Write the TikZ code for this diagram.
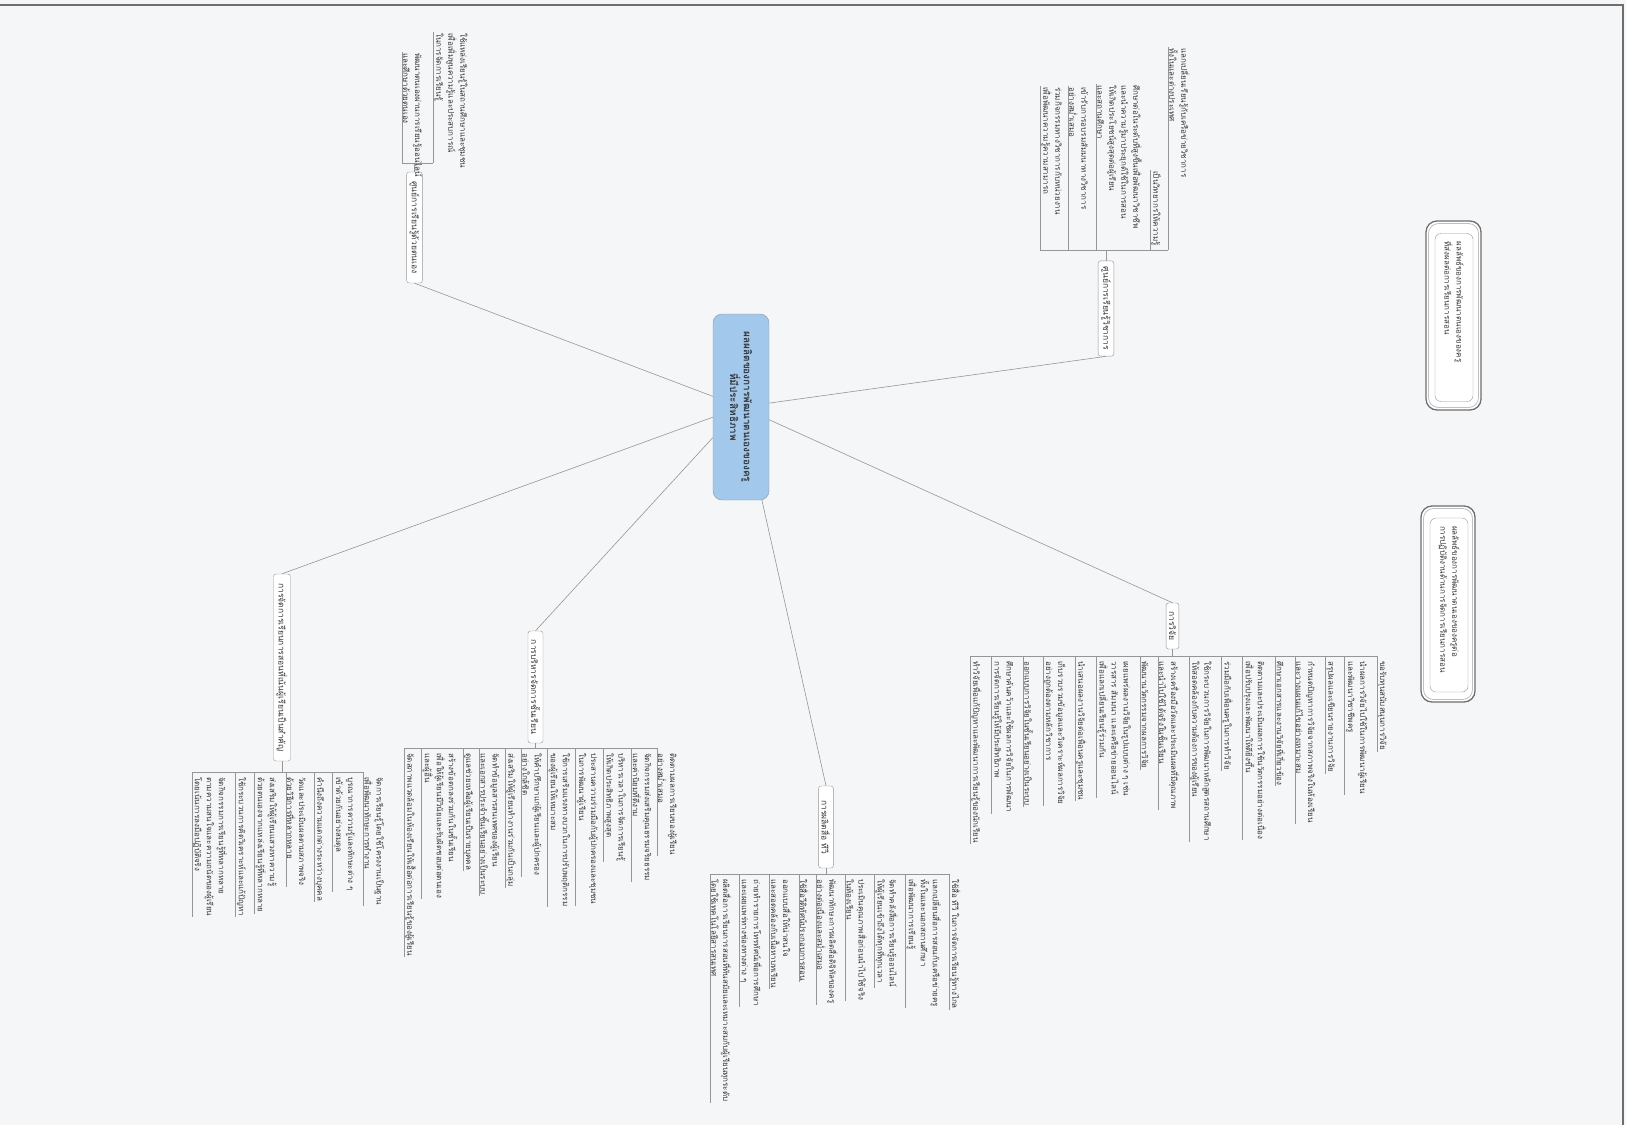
\documentclass[tikz,border=0pt]{standalone}
\usepackage{fontspec}
\newfontfamily\thaifont[Script=Thai]{Loma}
\usetikzlibrary{calc}
\definecolor{bg}{RGB}{245,246,248}
\definecolor{lin}{RGB}{150,150,150}
\definecolor{txt}{RGB}{55,55,55}
\definecolor{cblue}{RGB}{162,201,236}
\definecolor{frm}{RGB}{110,110,110}
\tikzset{
  every node/.style={font=\thaifont\fontsize{8}{12}\selectfont, text=txt},
  central/.style={rotate=-90, draw=lin, fill=cblue, rounded corners=9pt, align=center,
    minimum width=186pt, minimum height=56pt, font=\thaifont\bfseries\fontsize{10}{12}\selectfont},
  branch/.style={rotate=-90, draw=lin, fill=white, rounded corners=2.5pt, inner xsep=6pt, inner ysep=3pt,
    font=\thaifont\fontsize{8.5}{12}\selectfont},
  litem/.style={rotate=-90, align=left, inner sep=1pt, anchor=south west},
  iline/.style={draw=lin, line width=0.6pt},
  conn/.style={draw=lin, line width=0.6pt},
  rbo/.style={draw=frm, line width=1.3pt, fill=white, rounded corners=11pt},
  rbm/.style={draw=lin!60, line width=0.8pt, rounded corners=10pt},
  rbi/.style={rotate=-90, draw=lin, fill=white, rounded corners=6pt, align=left, inner xsep=8pt,
    minimum height=38pt},
}
\newcommand\dfirst[4]{%
  \node[litem] (#1) at (#2,#3) {#4};
  \draw[iline] ([yshift=4pt]#1.south west) -- (#1.south east);}
\newcommand\dnext[4]{%
  \node[litem] (#1) at ([xshift=#3pt]#2.north west) {#4};
  \draw[iline] ([yshift=4pt]#1.south west) -- (#1.south east);}
\newcommand\uitem[5]{%
  \node[litem] (#1) at (#2,#3) {#5};
  \draw[iline] (#1.south west) -- (#2,#4);}
\begin{document}
\begin{tikzpicture}[x=1pt,y=-1pt]
\useasboundingbox (0,0) rectangle (1626,1125);
\fill[bg] (0,0) rectangle (1626,1125);
\draw[frm, line width=1.5pt] (0,5) -- (1623,5) -- (1623,1125);

% central
\node[central] (M) at (741,407) {ผลผลิตของการพัฒนาตนเองของครู\\ที่มีประสิทธิภาพ};

% branches
\node[branch, minimum width=111pt] (A) at (414.5,227.5) {ศูนย์การเรียนรู้ด้วยตนเอง};
\node[branch, minimum width=93pt] (B) at (1106,308.5) {ศูนย์การเรียนรู้วิชาการ};
\node[branch, minimum width=46pt] (C) at (1172.5,626) {การวิจัย};
\node[branch, minimum width=82pt] (D) at (826,827) {การผลิตสื่อ ทีวี};
\node[branch, minimum width=112pt] (E) at (535.5,687) {การบริหารจัดการชั้นเรียน};
\node[branch, minimum width=187pt] (F) at (282,667.5) {การจัดการเรียนการสอนที่เน้นผู้เรียนเป็นสำคัญ};

\draw[conn] (M) -- (A.east);
\draw[conn] (M) -- (B.east);
\draw[conn] (M) -- (C.west);
\draw[conn] (M) -- (D.west);
\draw[conn] (M) -- (E.west);
\draw[conn] (M) -- (F.west);

% right boxes
\draw[rbo] (1426,221) rectangle (1481,410);
\draw[rbm] (1428.5,223.5) rectangle (1478.5,407.5);
\node[rbi, text width=152pt] (R1) at (1454,317.5) {ผลลัพธ์ของการพัฒนาตนเองของครู\\ที่ส่งผลต่อการเรียนการสอน};
\draw[rbo] (1421,506) rectangle (1475,702);
\draw[rbm] (1423.5,508.5) rectangle (1472.5,699.5);
\node[rbi, text width=158pt] (R2) at (1449,605) {ผลลัพธ์ของการพัฒนาตนเองของครูต่อ\\การปฏิบัติงานด้านการจัดการเรียนการสอน};

% ---- A (up)
\coordinate (ab) at (417,163);
\uitem{a1}{402}{52}{163}{พัฒนาตนเองผ่านการเรียนรู้ออนไลน์\\และศึกษาด้วยตนเอง}
\uitem{a2}{433}{32}{163}{ใช้แหล่งเรียนรู้ในสถานศึกษาและชุมชน\\เพื่อเพิ่มพูนความรู้และประสบการณ์\\ในการจัดการเรียนรู้}
\draw[iline] (402,163) -- (433,163);
\draw[iline] (A.west) -- (A.west |- ab);

% ---- B (up)
\coordinate (bb) at (1106,250);
\uitem{b1}{1040}{86}{250}{ร่วมกิจกรรมทางวิชาการกับหน่วยงาน\\เพื่อพัฒนาความรู้ความสามารถ}
\uitem{b2}{1068}{86}{250}{เข้ารับการอบรมสัมมนาทางวิชาการ\\อย่างสม่ำเสมอ}
\uitem{b3}{1096}{84}{250}{ศึกษาต่อในระดับที่สูงขึ้นเพื่อพัฒนาวิชาชีพ\\และนำความรู้มาประยุกต์ใช้ในการสอน\\ให้เกิดประโยชน์สูงสุดต่อผู้เรียน\\และสถานศึกษา}
\uitem{b4}{1150}{170}{250}{เป็นวิทยากรให้ความรู้}
\uitem{b5}{1168}{47}{250}{แลกเปลี่ยนเรียนรู้กับเครือข่ายวิชาการ\\ทั้งในและต่างประเทศ}
\draw[iline] (1040,250) -- (1168,250);
\draw[iline] (B.west) -- (B.west |- bb);

% ---- C (down)
\dfirst{c1}{970}{660}{ทำวิจัยเพื่อแก้ปัญหาและพัฒนาการเรียนรู้ของนักเรียน}
\dnext{c2}{c1}{8.5}{ศึกษาค้นคว้าและใช้ผลการวิจัยในการพัฒนา\\การจัดการเรียนรู้ให้มีประสิทธิภาพ}
\dnext{c3}{c2}{8.5}{ออกแบบการวิจัยในชั้นเรียนอย่างเป็นระบบ}
\dnext{c4}{c3}{8.5}{เก็บรวบรวมข้อมูลและวิเคราะห์ผลการวิจัย\\อย่างถูกต้องตามหลักวิชาการ}
\dnext{c5}{c4}{8.5}{นำเสนอผลงานวิจัยต่อเพื่อนครูและชุมชน}
\dnext{c6}{c5}{8.5}{เผยแพร่ผลงานวิจัยในรูปแบบต่าง ๆ เช่น\\วารสาร สัมมนา และเครือข่ายออนไลน์\\เพื่อแลกเปลี่ยนเรียนรู้ร่วมกัน}
\dnext{c7}{c6}{8.5}{พัฒนานวัตกรรมจากผลการวิจัย}
\dnext{c8}{c7}{8.5}{สร้างเครื่องมือวัดและประเมินผลที่มีคุณภาพ\\และนำไปใช้ได้จริงในชั้นเรียน}
\dnext{c9}{c8}{8.5}{ใช้กระบวนการวิจัยในการพัฒนาหลักสูตรสถานศึกษา\\ให้สอดคล้องกับความต้องการของผู้เรียน}
\dnext{c10}{c9}{8.5}{ร่วมมือกับเพื่อนครูในการทำวิจัย}
\dnext{c11}{c10}{8.5}{ติดตามและประเมินผลการใช้นวัตกรรมอย่างต่อเนื่อง\\เพื่อปรับปรุงและพัฒนาให้ดียิ่งขึ้น}
\dnext{c12}{c11}{8.5}{ศึกษาเอกสารและงานวิจัยที่เกี่ยวข้อง}
\dnext{c13}{c12}{8.5}{กำหนดปัญหาการวิจัยจากสภาพจริงในห้องเรียน\\และวางแผนแก้ไขอย่างเหมาะสม}
\dnext{c14}{c13}{8.5}{สรุปผลและเขียนรายงานการวิจัย}
\dnext{c15}{c14}{8.5}{นำผลการวิจัยไปใช้ในการพัฒนาผู้เรียน\\และพัฒนาวิชาชีพครู}
\dnext{c16}{c15}{8.5}{ขอรับทุนสนับสนุนการวิจัย}
\coordinate (cb) at ([yshift=4pt]c1.south west);
\draw[iline] (cb) -- ([yshift=4pt]c16.south west);
\draw[iline] (C.east) -- (C.east |- cb);

% ---- D (down)
\dfirst{d1}{710}{878}{ผลิตสื่อการเรียนการสอนที่ทันสมัยและเหมาะสมกับผู้เรียนทุกระดับ\\โดยใช้เทคโนโลยีสารสนเทศ}
\dnext{d2}{d1}{6.5}{ถ่ายทำรายการโทรทัศน์เพื่อการศึกษา\\และเผยแพร่ทางช่องทางต่าง ๆ}
\dnext{d3}{d2}{6.5}{ออกแบบสื่อให้น่าสนใจ\\และสอดคล้องกับเนื้อหาบทเรียน}
\dnext{d4}{d3}{6.5}{ใช้สื่อวีดิทัศน์ประกอบการสอน}
\dnext{d5}{d4}{6.5}{พัฒนาทักษะการผลิตสื่อดิจิทัลของครู\\อย่างต่อเนื่องและสม่ำเสมอ}
\dnext{d6}{d5}{6.5}{ประเมินคุณภาพสื่อก่อนนำไปใช้จริง\\ในห้องเรียน}
\dnext{d7}{d6}{6.5}{จัดทำคลังสื่อการเรียนรู้ออนไลน์\\ให้ผู้เรียนเข้าถึงได้ทุกที่ทุกเวลา}
\dnext{d8}{d7}{6.5}{แลกเปลี่ยนสื่อการสอนกับเครือข่ายครู\\ทั้งในและนอกสถานศึกษา\\เพื่อพัฒนาการเรียนรู้}
\dnext{d9}{d8}{6.5}{ใช้สื่อ ทีวี ในการจัดการเรียนรู้ทางไกล}
\coordinate (db) at ([yshift=4pt]d1.south west);
\draw[iline] (db) -- ([yshift=4pt]d9.south west);
\draw[iline] (D.east) -- (D.east |- db);

% ---- E (down)
\dfirst{e1}{404}{752}{จัดสภาพแวดล้อมในห้องเรียนให้เอื้อต่อการเรียนรู้ของผู้เรียน}
\dnext{e2}{e1}{4.5}{สร้างข้อตกลงร่วมกันในชั้นเรียน\\เพื่อให้ผู้เรียนมีวินัยและรับผิดชอบต่อตนเอง\\และผู้อื่น}
\dnext{e3}{e2}{4.5}{ดูแลช่วยเหลือผู้เรียนเป็นรายบุคคล}
\dnext{e4}{e3}{4.5}{จัดทำข้อมูลสารสนเทศของผู้เรียน\\และเอกสารประจำชั้นเรียนอย่างเป็นระบบ}
\dnext{e5}{e4}{4.5}{ส่งเสริมให้ผู้เรียนทำงานร่วมกันเป็นกลุ่ม}
\dnext{e6}{e5}{4.5}{ให้คำปรึกษาแก่ผู้เรียนและผู้ปกครอง\\อย่างใกล้ชิด}
\dnext{e7}{e6}{4.5}{ใช้การเสริมแรงทางบวกในการปรับพฤติกรรม\\ของผู้เรียนให้เหมาะสม}
\dnext{e8}{e7}{4.5}{ประสานความร่วมมือกับผู้ปกครองและชุมชน\\ในการพัฒนาผู้เรียน}
\dnext{e9}{e8}{4.5}{บริหารเวลาในการจัดการเรียนรู้\\ให้เกิดประสิทธิภาพสูงสุด}
\dnext{e10}{e9}{4.5}{จัดกิจกรรมส่งเสริมคุณธรรมจริยธรรม\\และค่านิยมที่ดีงาม}
\dnext{e11}{e10}{4.5}{ติดตามผลการเรียนของผู้เรียน\\อย่างสม่ำเสมอ}
\coordinate (eb) at ([yshift=4pt]e1.south west);
\draw[iline] (eb) -- ([yshift=4pt]e11.south west);
\draw[iline] (E.east) -- (E.east |- eb);

% ---- F (down)
\dfirst{f1}{192}{776}{จัดกิจกรรมการเรียนรู้ที่หลากหลาย\\ตามความสนใจและความถนัดของผู้เรียน\\โดยเน้นการลงมือปฏิบัติจริง}
\dnext{f2}{f1}{7.5}{ใช้กระบวนการคิดวิเคราะห์และแก้ปัญหา}
\dnext{f3}{f2}{7.5}{ส่งเสริมให้ผู้เรียนแสวงหาความรู้\\ด้วยตนเองจากแหล่งเรียนรู้ที่หลากหลาย}
\dnext{f4}{f3}{7.5}{วัดและประเมินผลตามสภาพจริง\\ด้วยวิธีการที่หลากหลาย}
\dnext{f5}{f4}{7.5}{คำนึงถึงความแตกต่างระหว่างบุคคล}
\dnext{f6}{f5}{7.5}{บูรณาการความรู้และทักษะต่าง ๆ\\เข้าด้วยกันอย่างสมดุล}
\dnext{f7}{f6}{7.5}{จัดการเรียนรู้โดยใช้โครงงานเป็นฐาน\\เพื่อพัฒนาทักษะการทำงาน}
\coordinate (fb) at ([yshift=4pt]f1.south west);
\draw[iline] (fb) -- ([yshift=4pt]f7.south west);
\draw[iline] (F.east) -- (F.east |- fb);
\end{tikzpicture}
\end{document}
